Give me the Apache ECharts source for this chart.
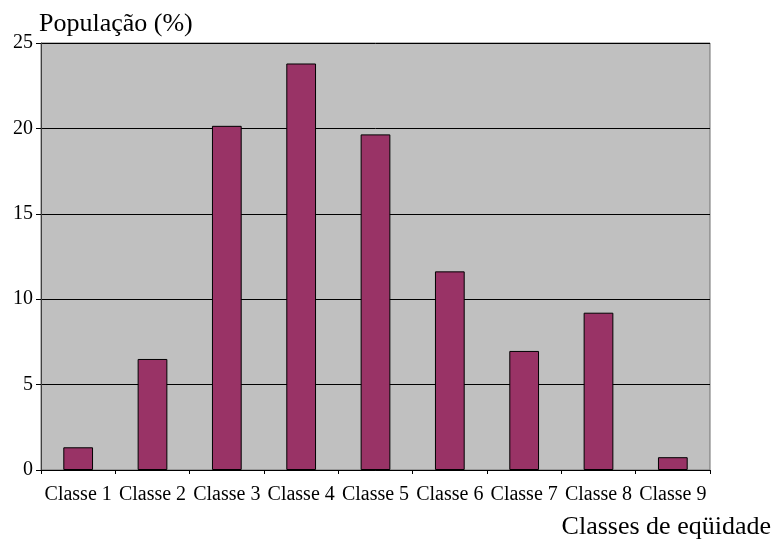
<!DOCTYPE html>
<html>
<head>
<meta charset="utf-8">
<title>População por classes de eqüidade</title>
<script src="https://cdn.jsdelivr.net/npm/echarts@6/dist/echarts.min.js"></script>
<style>
  html, body { margin: 0; padding: 0; background: #ffffff; }
  #chart { width: 776px; height: 546px; }
</style>
</head>
<body>
<div id="chart"></div>
<script>
// Equity classes and share of the population in each (%)
const categories = ['Classe 1', 'Classe 2', 'Classe 3', 'Classe 4', 'Classe 5',
                    'Classe 6', 'Classe 7', 'Classe 8', 'Classe 9'];
const populationPct = [1.33, 6.5, 20.15, 23.8, 19.65, 11.63, 6.97, 9.21, 0.75];
const yMin = 0, yMax = 25, yStep = 5;

const serif = '"Liberation Serif", "Times New Roman", serif';

const chart = echarts.init(document.getElementById('chart'));
chart.setOption({
  animation: false,
  backgroundColor: '#ffffff',
  textStyle: { fontFamily: serif, color: '#000' },
  grid: {
    left: 41, right: 66, top: 43, bottom: 76,
    containLabel: false,
    show: true,
    backgroundColor: '#c0c0c0',
    borderColor: '#707070',
    borderWidth: 1
  },
  xAxis: {
    type: 'category',
    data: categories,
    boundaryGap: true,
    name: 'Classes de eqüidade',
    nameLocation: 'end',
    nameGap: 61,
    nameTextStyle: {
      fontFamily: serif, fontSize: 26, color: '#000',
      align: 'right', verticalAlign: 'top', padding: [44, 0, 0, 0]
    },
    axisLine: { show: true, lineStyle: { color: '#000', width: 1 } },
    axisTick: { show: true, length: 4, alignWithLabel: false, lineStyle: { color: '#000' } },
    axisLabel: { interval: 0, fontFamily: serif, fontSize: 20, color: '#000', margin: 15 },
    splitLine: { show: false }
  },
  yAxis: {
    type: 'value',
    min: yMin, max: yMax, interval: yStep,
    name: 'População (%)',
    nameLocation: 'end',
    nameGap: 6,
    nameTextStyle: {
      fontFamily: serif, fontSize: 26, color: '#000',
      align: 'left', verticalAlign: 'bottom', padding: [0, 0, 0, -2]
    },
    axisLine: { show: true, lineStyle: { color: '#404040', width: 1 } },
    axisTick: { show: true, length: 5, lineStyle: { color: '#000' } },
    axisLabel: { fontFamily: serif, fontSize: 20, color: '#000', margin: 8 },
    splitLine: { show: true, lineStyle: { color: '#000', width: 1 } }
  },
  series: [{
    type: 'bar',
    data: populationPct,
    barWidth: '40%',
    itemStyle: { color: '#993366', borderColor: '#000', borderWidth: 1 }
  }]
});
</script>
</body>
</html>
